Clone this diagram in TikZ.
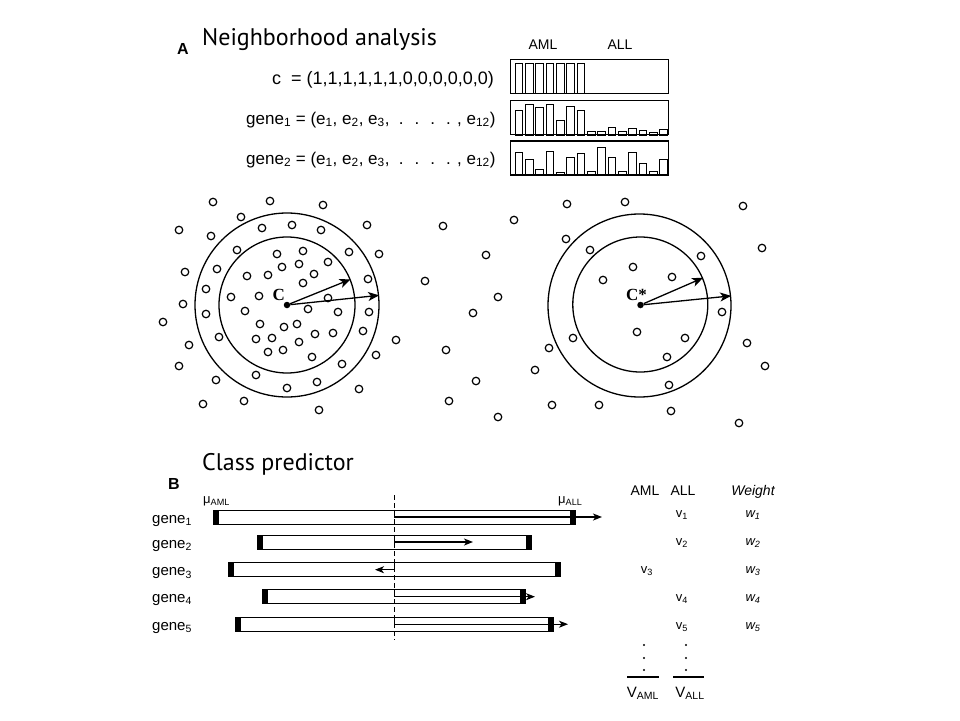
\documentclass[tikz,border=0pt]{standalone}
\usepackage{fontspec}
\setmainfont{Liberation Sans}
\newfontfamily\headfont{PT Sans}
\newfontfamily\centrefont{Liberation Serif}
\usetikzlibrary{arrows.meta}

\begin{document}
\begin{tikzpicture}[x=1pt,y=-1pt,
  dot/.style={draw,circle,line width=1.2pt,inner sep=0pt,minimum size=7.5pt},
  centre/.style={fill,circle,inner sep=0pt,minimum size=6.5pt},
  ring/.style={draw,circle,line width=1.3pt,inner sep=0pt},
  clabel/.style={font=\centrefont\bfseries\fontsize{17}{17}\selectfont,inner sep=0pt},
  head/.style={font=\headfont\fontsize{24}{26}\selectfont,anchor=base west,inner sep=0pt},
  panel/.style={font=\bfseries\fontsize{16}{18}\selectfont,anchor=base west,inner sep=0pt},
  eq/.style={font=\fontsize{17}{19}\selectfont,anchor=base west,inner sep=0pt},
  txt/.style={font=\fontsize{14}{16}\selectfont,anchor=base,inner sep=0pt},
  small/.style={font=\fontsize{13}{15}\selectfont,anchor=base,inner sep=0pt},
  profile/.style={draw,line width=1.2pt,minimum width=158pt,minimum height=34pt,inner sep=0pt},
  bar/.style={draw,line width=0.9pt},
  genebar/.style={draw,line width=1pt,minimum height=14pt,inner sep=0pt},
  reach/.style={-{Stealth[length=11pt,width=9pt,inset=3pt]},line width=1.3pt},
  move/.style={-{Stealth[length=9pt,width=7pt,inset=2.5pt]},line width=1.2pt},
  every node/.style={align=center}]

  \useasboundingbox (0,0) rectangle (960,720);

  % panel A
  \node[panel] (A) at (177,54) {A};
  \node[head] (titleA) at (202,45) {Neighborhood analysis};
  \node[txt] (aml) at (543,49) {AML};
  \node[txt] (all) at (620,49) {ALL};
  \node[eq,font=\fontsize{18}{20}\selectfont] (cvec) at (272,84) {c\hspace{10pt}= (1,1,1,1,1,1,0,0,0,0,0,0)};
  \node[eq] (gvec1) at (246,124) {gene\textsubscript{1} = (e\textsubscript{1}, e\textsubscript{2}, e\textsubscript{3}, \ . \ . \ . \ . , e\textsubscript{12})};
  \node[eq] (gvec2) at (246,164) {gene\textsubscript{2} = (e\textsubscript{1}, e\textsubscript{2}, e\textsubscript{3}, \ . \ . \ . \ . , e\textsubscript{12})};

  \node[profile] (cbox) at (589.3,76.2) {};
  \node[profile] (gbox1) at (589.3,117.8) {};
  \node[profile] (gbox2) at (589.3,158) {};
  \foreach \h [count=\i from 0] in {30,30,30,30,30,30,30}
    \draw[bar] (515+10.35*\i,93.3) rectangle ++(7.7,-\h);
  \foreach \h [count=\i from 0] in {24.3,31,27.7,30.7,15,28.3,25,3.3,4,8,4,7,4.3,2.3,5.7}
    \draw[bar] (515+10.35*\i,135) rectangle ++(7.7,-\h);
  \foreach \h [count=\i from 0] in {23,16,5.7,24,2.3,18,21.7,4,28,17.7,3.7,22.7,11.7,3.7,16}
    \draw[bar] (515+10.35*\i,175) rectangle ++(7.7,-\h);

  % neighbourhood of c
  \node[ring,minimum size=184pt] (outC) at (287,305) {};
  \node[ring,minimum size=136pt] (inC) at (287,305) {};
  \foreach \x/\y [count=\i] in {213/202,270/201,323/205,241/217,179/230,211/236,262/228,292/225,
      321/230,367/225,237/250,277/254,303/251,349/252,379/254,185/272,217/269,247/276,268/275,
      282/267,299/264,314/274,328/262,303/283,206/289,231/297,259/296,328/298,368/279,183/304,
      206/314,245/311,308/309,338/312,369/312,163/322,260/324,284/327,297/324,315/334,333/333,
      363/331,219/337,256/339,272/338,299/342,396/340,189/345,268/352,283/350,312/357,179/366,
      342/364,376/355,256/375,216/380,317/382,287/388,359/389,203/404,244/401,319/410}
    \node[dot] (l\i) at (\x,\y) {};
  \node[centre] (C) at (287,305) {};
  \node[clabel] (Cl) at (278.7,295) {C};
  \draw[reach] (C) -- (inC.22);
  \draw[reach] (C) -- (outC.6);

  % neighbourhood of c*
  \node[ring,minimum size=183pt] (outS) at (639.5,305.5) {};
  \node[ring,minimum size=135pt] (inS) at (640.3,304.5) {};
  \foreach \x/\y [count=\i] in {567/204,625/202,743/206,514/220,443/226,566/239,590/250,701/256,
      762/248,486/255,633/267,672/277,603/280,425/281,498/297,473/313,722/312,637/332,685/338,
      573/338,549/348,446/350,747/343,667/357,765/366,535/370,476/381,669/385,449/401,552/405,
      599/405,671/411,498/417,739/423}
    \node[dot] (r\i) at (\x,\y) {};
  \node[centre] (S) at (640.5,305) {};
  \node[clabel] (Sl) at (636.5,295.3) {C*};
  \draw[reach] (S) -- (inS.23);
  \draw[reach] (S) -- (outS.6);

  % panel B
  \node[head] (titleB) at (202,470) {Class predictor};
  \node[panel] (B) at (168,489) {B};
  \node[small,anchor=base west] (muaml) at (203,503) {μ\textsubscript{AML}};
  \node[small,anchor=base west] (muall) at (558,503) {μ\textsubscript{ALL}};

  \coordinate (dtop) at (394.3,495);
  \coordinate (dbot) at (394.3,640);
  \draw[dashed,line width=1.1pt,dash pattern=on 5pt off 3pt] (dtop) -- (dbot);

  \foreach \w/\y/\t [count=\i] in {362/517/602,274/542/473,332/569.7/375,263/596.7/535,318/624.2/568}{
    \node[genebar,minimum width=\w pt] (g\i) at (394,\y) {};
    \fill (g\i.north west) rectangle ([xshift=6pt]g\i.south west);
    \fill (g\i.north east) rectangle ([xshift=-6pt]g\i.south east);
    \coordinate (t\i) at (\t,\y);
    \draw[move] (g\i.north -| dtop) |- (t\i);
    \node[txt,anchor=base west,font=\fontsize{15}{17}\selectfont] (n\i) at (152,\y+6) {gene\textsubscript{\i}};
  }

  % weights table
  \node[txt] (haml) at (645,495) {AML};
  \node[txt] (hall) at (683,495) {ALL};
  \node[txt,font=\itshape\fontsize{14}{16}\selectfont] (hw) at (753,495) {Weight};
  \node[small] (v1) at (682,517) {v\textsubscript{1}};
  \node[small] (v2) at (682,545) {v\textsubscript{2}};
  \node[small] (v3) at (647,573) {v\textsubscript{3}};
  \node[small] (v4) at (682,601) {v\textsubscript{4}};
  \node[small] (v5) at (682,629) {v\textsubscript{5}};
  \foreach \i/\y in {1/517,2/545,3/573,4/601,5/629}
    \node[small,font=\itshape\fontsize{13}{15}\selectfont] (w\i) at (753,\y) {w\textsubscript{\i}};
  \foreach \x/\c in {644/a,686/b}
    \foreach \y [count=\j] in {645,658,670}
      \node[fill,circle,inner sep=0pt,minimum size=2.2pt] (dot\c\j) at (\x,\y) {};
  \draw[line width=2pt] (627,677) -- (659,677);
  \draw[line width=2pt] (673,677) -- (704,677);
  \node[txt,font=\fontsize{15}{17}\selectfont] (vaml) at (643,697) {V\textsubscript{AML}};
  \node[txt,font=\fontsize{15}{17}\selectfont] (vall) at (690,697) {V\textsubscript{ALL}};
\end{tikzpicture}
\end{document}
